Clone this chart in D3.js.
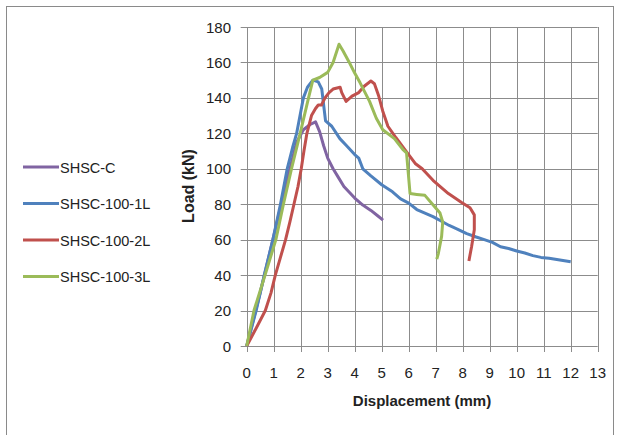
<!DOCTYPE html>
<html>
<head>
<meta charset="utf-8">
<script src="https://cdn.jsdelivr.net/npm/d3@7"></script>
<style>
  body { margin: 0; background: #fff; }
  text { font-family: "Liberation Sans", Arial, sans-serif; fill: #222; }
</style>
</head>
<body>
<div id="chart"></div>
<script>
// load-displacement curves, [displacement mm, load kN]
var shscC = [[0,0],[0.5,30],[1,62],[1.5,94],[1.85,115],[2.1,122],[2.35,125],[2.55,126.5],[2.7,121],[2.85,113],[3.0,106],[3.2,100],[3.4,95],[3.6,90],[4.0,83.5],[4.3,79.5],[4.6,76.5],[4.85,73.5],[5.05,71]];
var shsc1L = [[0,0],[0.35,20],[0.65,40],[0.97,60],[1.25,80],[1.5,100],[1.7,112],[1.85,120],[2.1,140],[2.25,146],[2.45,150],[2.65,149],[2.78,145],[2.85,136],[2.92,127],[3.15,124],[3.45,117],[3.7,113],[4.0,108],[4.15,106],[4.3,100],[4.6,96],[5.0,91],[5.4,87],[5.7,83],[6.0,80.6],[6.3,77],[6.6,75],[6.9,73],[7.2,70.5],[7.5,68],[7.8,66],[8.15,63.4],[8.5,61.5],[8.8,60],[9.1,58.5],[9.4,56],[9.7,55],[10.0,53.6],[10.3,52.5],[10.6,51],[10.9,50],[11.2,49.5],[11.6,48.5],[12.0,47.5]];
var shsc2L = [[0,0],[0.35,10],[0.69,20],[0.9,30],[1.06,40],[1.25,50],[1.44,60],[1.6,70],[1.75,80],[1.9,90],[2.02,100],[2.12,110],[2.23,120],[2.4,130],[2.55,134],[2.65,136],[2.77,136],[2.9,140],[3.05,143],[3.2,145],[3.46,146],[3.52,143],[3.68,138],[3.9,141],[4.15,143],[4.35,146.6],[4.6,149.5],[4.73,148],[4.89,141],[5.04,132.5],[5.23,124],[5.53,117.5],[5.9,110],[6.24,103],[6.5,100],[6.9,93.5],[7.2,89.5],[7.47,86],[7.96,81],[8.27,78],[8.43,74],[8.43,65.6],[8.33,56.2],[8.23,48]];
var shsc3L = [[0,0],[0.27,20],[0.68,40],[1.08,60],[1.36,80],[1.66,100],[1.98,120],[2.29,140],[2.45,150],[2.7,151.5],[3.0,154.4],[3.2,160],[3.42,170.3],[3.57,166.5],[3.8,160],[4.0,154],[4.2,148.5],[4.55,138],[4.8,128.5],[5.04,122],[5.47,117],[5.78,111],[5.92,109],[6.05,86],[6.3,85.5],[6.6,85],[6.85,80.6],[7.16,75],[7.26,70],[7.22,62],[7.1,52.3],[7.04,49]];

var seriesNames = ['SHSC-C', 'SHSC-100-1L', 'SHSC-100-2L', 'SHSC-100-3L'];
var seriesData = [shscC, shsc1L, shsc2L, shsc3L];
var seriesColors = ['#8064A2', '#4F81BD', '#C0504D', '#9BBB59'];
var xTicks = d3.range(0, 14, 1);
var yTicks = d3.range(0, 181, 20);

var width = 620, height = 435;
var svg = d3.select('#chart').append('svg')
  .attr('width', width)
  .attr('height', height);

// outer frame
svg.append('rect')
  .attr('x', 6.5).attr('y', 6.5)
  .attr('width', 607).attr('height', 440)
  .attr('fill', 'none')
  .attr('stroke', '#8a8a8a');

var x = d3.scaleLinear().domain([0, 13]).range([246.7, 597.7]);
var y = d3.scaleLinear().domain([0, 180]).range([346, 27]);

// grid
var grid = svg.append('g').attr('stroke', '#8c8c8c').attr('stroke-width', 1);
grid.selectAll('line.v').data(xTicks).enter().append('line')
  .attr('class', 'v')
  .attr('x1', d => Math.round(x(d)) + 0.5).attr('x2', d => Math.round(x(d)) + 0.5)
  .attr('y1', y(180)).attr('y2', y(0) + 6);
grid.selectAll('line.h').data(yTicks).enter().append('line')
  .attr('class', 'h')
  .attr('y1', d => Math.round(y(d)) + 0.5).attr('y2', d => Math.round(y(d)) + 0.5)
  .attr('x1', x(0) - 6).attr('x2', x(13));

// tick labels
svg.append('g').selectAll('text').data(xTicks).enter().append('text')
  .attr('x', d => x(d))
  .attr('y', 378)
  .attr('text-anchor', 'middle')
  .style('font-size', '15px')
  .text(d => d);

svg.append('g').selectAll('text').data(yTicks).enter().append('text')
  .attr('x', 231)
  .attr('y', d => y(d) + 5.5)
  .attr('text-anchor', 'end')
  .style('font-size', '15px')
  .text(d => d);

// axis titles
svg.append('text')
  .attr('x', 422).attr('y', 406)
  .attr('text-anchor', 'middle')
  .style('font-size', '15px').style('font-weight', 'bold')
  .text('Displacement (mm)');

svg.append('text')
  .attr('transform', 'translate(194,186) rotate(-90)')
  .attr('text-anchor', 'middle')
  .style('font-size', '16px').style('font-weight', 'bold')
  .text('Load (kN)');

// curves
var line = d3.line()
  .x(d => x(d[0]))
  .y(d => y(d[1]));

svg.append('g').selectAll('path').data(seriesData).enter().append('path')
  .attr('d', line)
  .attr('fill', 'none')
  .attr('stroke', (d, i) => seriesColors[i])
  .attr('stroke-width', 3)
  .attr('stroke-linejoin', 'round');

// legend
var legend = svg.append('g').selectAll('g').data(seriesNames).enter().append('g')
  .attr('transform', (d, i) => 'translate(0,' + (167 + i * 36.5) + ')');
legend.append('line')
  .attr('x1', 23).attr('x2', 59)
  .attr('stroke', (d, i) => seriesColors[i])
  .attr('stroke-width', 3);
legend.append('text')
  .attr('x', 60).attr('y', 5.5)
  .style('font-size', '14.5px')
  .text(d => d);
</script>
</body>
</html>
